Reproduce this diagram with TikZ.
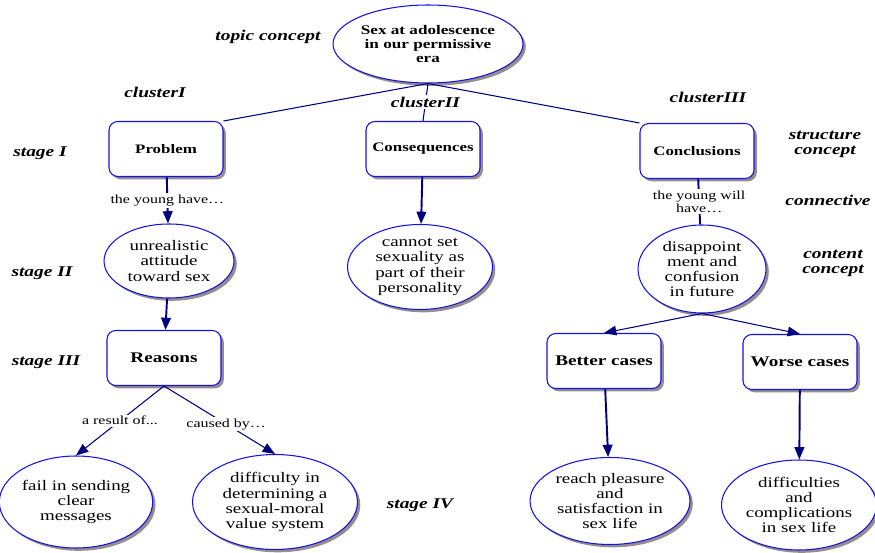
\documentclass[tikz,border=0pt]{standalone}
\usepackage{fontspec}
\setmainfont{Liberation Serif}[FakeStretch=1.3]
\usetikzlibrary{
  arrows.meta,
  positioning,
  shapes.geometric,
  shadows,
}
\definecolor{edgeblue}{RGB}{0,0,128}
\definecolor{rimblue}{RGB}{20,20,225}
\definecolor{shadowgray}{RGB}{150,140,140}
\tikzset{
  conceptshadow/.style={
    drop shadow={shadow xshift=1.6pt, shadow yshift=-1.6pt, fill=shadowgray, opacity=1}
  },
  conceptbox/.style={
    rectangle, draw=rimblue, fill=white, semithick, rounded corners=5pt,
    minimum width=2.28cm, minimum height=1.1cm, inner sep=1pt,
    font=\bfseries\fontsize{7.4}{8}\selectfont, conceptshadow
  },
  reasonbox/.style={conceptbox, font=\bfseries\fontsize{8.4}{9}\selectfont},
  contentnode/.style={
    ellipse, draw=rimblue, fill=white, semithick, inner sep=0pt, align=center,
    font=\fontsize{8.3}{8.6}\selectfont, conceptshadow
  },
  topicnode/.style={contentnode, font=\bfseries\fontsize{7.5}{8}\selectfont},
  sidelabel/.style={font=\bfseries\itshape\fontsize{8.5}{9}\selectfont, align=center},
  linklabel/.style={fill=white, inner sep=1pt, align=center,
    font=\fontsize{7}{7.4}\selectfont},
  treeline/.style={draw=edgeblue, line width=0.6pt},
  mainarrow/.style={draw=edgeblue, line width=1.1pt, -{Triangle[length=7pt,width=5.5pt]}},
  thinarrow/.style={draw=edgeblue, line width=0.6pt, -{Triangle[length=7pt,width=5.5pt]}},
}

\begin{document}
\begin{tikzpicture}[x=0.02cm, y=-0.02cm]
  \useasboundingbox (0,0) rectangle (875,553);

  % -- topic concept --
  \node[topicnode, minimum width=3.8cm, minimum height=1.56cm] (topic) at (428,44)
    {Sex at adolescence\\in our permissive\\era};

  % -- stage I: structure concepts --
  \node[conceptbox] (problem) at (166,149) {Problem};
  \node[conceptbox] (conseq)  at (423,149) {Consequences};
  \node[conceptbox] (concl)   at (697,151) {Conclusions};

  % -- stage II: content concepts --
  \node[contentnode, minimum width=2.6cm, minimum height=1.48cm] (unreal) at (169,261)
    {unrealistic\\attitude\\toward sex};
  \node[contentnode, minimum width=2.9cm, minimum height=1.7cm] (cannot) at (420,267)
    {cannot set\\sexuality as\\part of their\\personality};
  \node[contentnode, minimum width=2.56cm, minimum height=1.76cm] (disapp) at (702,269)
    {disappoint\\ment and\\confusion\\in future};

  % -- stage III --
  \node[reasonbox] (reasons) at (164,358) {Reasons};
  \node[reasonbox] (better)  at (604,361) {Better cases};
  \node[reasonbox] (worse)   at (800,362) {Worse cases};

  % -- stage IV --
  \node[contentnode, minimum width=3.04cm, minimum height=1.84cm] (fail) at (76,502)
    {fail in sending\\clear\\messages};
  \node[contentnode, minimum width=3.3cm, minimum height=1.9cm] (diff) at (275,502)
    {difficulty in\\determining a\\sexual-moral\\value system};
  \node[contentnode, minimum width=3.2cm, minimum height=1.74cm] (reach) at (610,501)
    {reach pleasure\\and\\satisfaction in\\sex life};
  \node[contentnode, minimum width=3.1cm, minimum height=1.8cm] (diffs) at (799,505)
    {difficulties\\and\\complications\\in sex life};

  % -- connectors --
  \draw[treeline] (topic.south) -- (problem.north east);
  \draw[treeline] (topic.south) -- node[sidelabel, fill=white, inner sep=1pt] (clusterB) {clusterII} (conseq.north);
  \draw[treeline] (topic.south) -- (concl.north west);

  \draw[mainarrow] (problem) -- node[linklabel] (linkA) {the young have\ldots} (unreal);
  \draw[mainarrow] (conseq) -- (cannot);
  \draw[treeline, line width=1.1pt] (concl) -- node[linklabel] (linkC) {the young will\\have\ldots} (disapp);
  \draw[mainarrow] (unreal) -- (reasons);

  \draw[thinarrow] (reasons.south) -- node[linklabel] (linkD) {a result of...} (fail.north);
  \draw[thinarrow] (reasons.south) -- node[linklabel, pos=0.56] (linkE) {caused by\ldots} (diff.north);

  \draw[thinarrow] (disapp.south) -- (better.north);
  \draw[thinarrow] (disapp.south) -- (worse.north);
  \draw[mainarrow] (better) -- (reach);
  \draw[mainarrow] (worse) -- (diffs);

  % -- side labels --
  \node[sidelabel] (topiclbl)   at (268,37)  {topic concept};
  \node[sidelabel] (clusterA)   at (155,92)  {clusterI};
  \node[sidelabel] (clusterC)   at (708,97)  {clusterIII};
  \node[sidelabel, font=\bfseries\itshape\fontsize{8.5}{8.5}\selectfont] (structlbl) at (825,144) {structure\\concept};
  \node[sidelabel] (connlbl)    at (828,200) {connective};
  \node[sidelabel, font=\bfseries\itshape\fontsize{8.5}{8.5}\selectfont] (contlbl)   at (833,263) {content\\concept};
  \node[sidelabel] (stageA)     at (40,153)  {stage I};
  \node[sidelabel] (stageB)     at (42,273)  {stage II};
  \node[sidelabel] (stageC)     at (46,362)  {stage III};
  \node[sidelabel] (stageD)     at (420,505) {stage IV};
\end{tikzpicture}
\end{document}
